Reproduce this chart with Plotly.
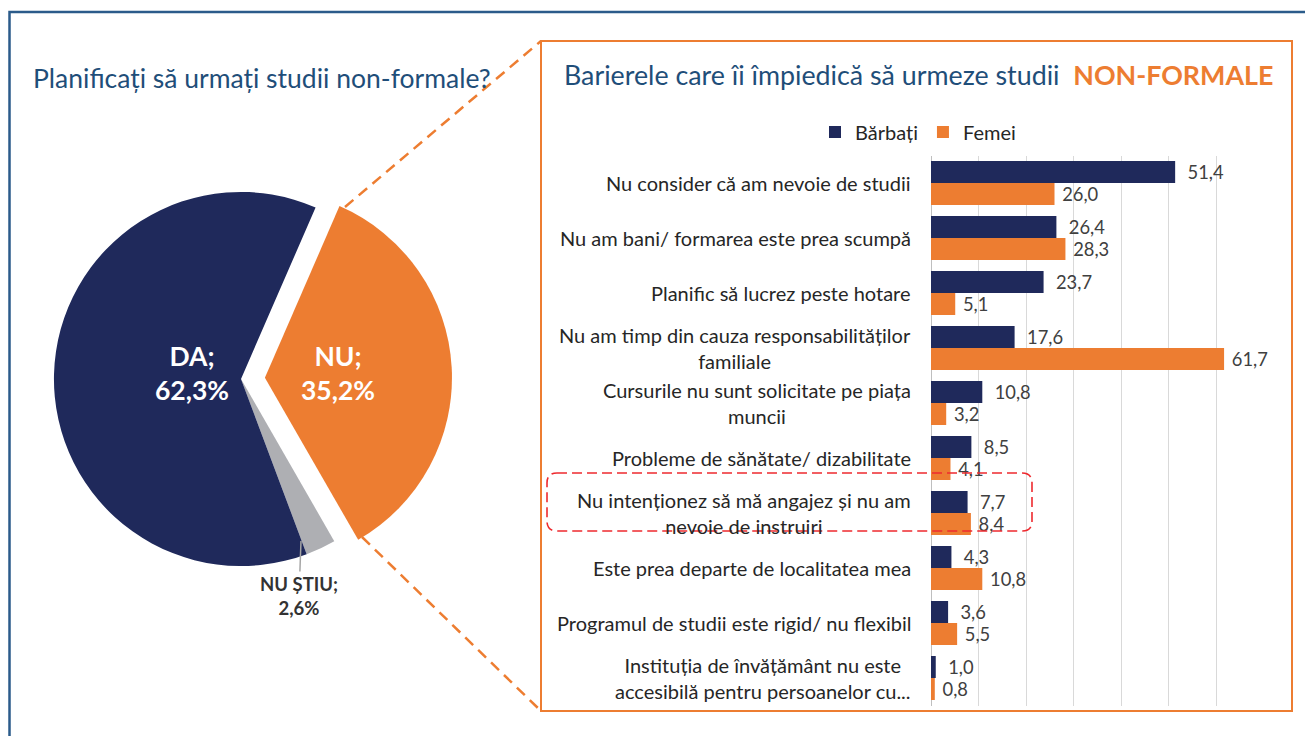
import plotly.graph_objects as go

# the page adds an 8px body margin, so the figure is 8px smaller than the window
OFF = 8
W, H = 1313 - OFF, 736 - OFF

# ---------------- data ----------------
pie_labels = ["NU", "NU ȘTIU", "DA"]
pie_values = [35.2, 2.6, 62.3]

categories = [
    "Nu consider că am nevoie de studii",
    "Nu am bani/ formarea este prea scumpă",
    "Planific să lucrez peste hotare",
    "Nu am timp din cauza responsabilităților<br>familiale",
    "Cursurile nu sunt solicitate pe piața<br>muncii",
    "Probleme de sănătate/ dizabilitate",
    "Nu intenționez să mă angajez și nu am<br>nevoie de instruiri",
    "Este prea departe de localitatea mea",
    "Programul de studii este rigid/ nu flexibil",
    "Instituția de învățământ nu este<br>accesibilă pentru persoanelor cu...",
]
barbati = [51.4, 26.4, 23.7, 17.6, 10.8, 8.5, 7.7, 4.3, 3.6, 1.0]
femei = [26.0, 28.3, 5.1, 61.7, 3.2, 4.1, 8.4, 10.8, 5.5, 0.8]
series_names = ["Bărbați", "Femei"]

NAVY = "#1F295B"
ORANGE = "#ED7D31"
GREY = "#AEAFB3"
BLUE_T = "#1F4E79"
TXT = "#262626"
FONT = "Lato"


def px(x):
    return (x - OFF) / W


def py(y):
    return 1 - (y - OFF) / H


def fmt(v):
    return f"{v:.1f}".replace(".", ",")


fig = go.Figure()

# ---------------- pie ----------------
fig.add_trace(go.Pie(
    labels=pie_labels,
    values=pie_values,
    sort=False,
    direction="clockwise",
    rotation=23.5,
    pull=[0.128, 0, 0],
    marker=dict(colors=[ORANGE, GREY, NAVY], line=dict(width=0)),
    textinfo="none",
    hoverinfo="label+percent",
    showlegend=False,
    domain=dict(x=[px(30), px(452)], y=[py(590), py(168)]),
))

# ---------------- bars ----------------
for name, vals, col, pad in [(series_names[0], barbati, NAVY, "\u00a0\u00a0"),
                             (series_names[1], femei, ORANGE, "\u00a0")]:
    fig.add_trace(go.Bar(
        name=name,
        y=categories,
        x=vals,
        orientation="h",
        marker=dict(color=col, line=dict(width=0)),
        text=[pad + fmt(v) for v in vals],
        textposition="outside",
        textfont=dict(family=FONT, size=20, color="#404040"),
        cliponaxis=False,
        xaxis="x",
        yaxis="y",
    ))

annotations = []
# category labels (centered multi-line, right-anchored like the original)
for c in categories:
    annotations.append(dict(
        xref="paper", yref="y", x=px(913), y=c, text=c,
        xanchor="right", yanchor="middle", align="center", showarrow=False,
        font=dict(family=FONT, size=20, color=TXT),
    ))

# pie labels
lab = {l: v for l, v in zip(pie_labels, pie_values)}
annotations.append(dict(
    xref="paper", yref="paper", x=px(192), y=py(373), xanchor="center", yanchor="middle",
    text=f"<b>DA;<br>{fmt(lab['DA'])}%</b>", showarrow=False,
    font=dict(family=FONT, size=26.5, color="white"), align="center",
))
annotations.append(dict(
    xref="paper", yref="paper", x=px(338), y=py(373), xanchor="center", yanchor="middle",
    text=f"<b>NU;<br>{fmt(lab['NU'])}%</b>", showarrow=False,
    font=dict(family=FONT, size=26.5, color="white"), align="center",
))
annotations.append(dict(
    xref="paper", yref="paper", x=px(301), y=py(541),
    text=f"<b>NU ȘTIU;<br>{fmt(lab['NU ȘTIU'])}%</b>", showarrow=True,
    arrowhead=0, arrowwidth=1.5, arrowcolor="#A6A6A6", ax=-2, ay=55,
    font=dict(family=FONT, size=18.5, color="#333333"), align="center",
))

# titles
annotations.append(dict(
    xref="paper", yref="paper", x=px(31), y=py(78), xanchor="left", yanchor="middle",
    text="Planificați să urmați studii non-formale?", showarrow=False,
    font=dict(family=FONT, size=26.5, color=BLUE_T),
))
annotations.append(dict(
    xref="paper", yref="paper", x=px(562), y=py(75), xanchor="left", yanchor="middle",
    text=f"Barierele care îi împiedică să urmeze studii \u00a0<b><span style='color:{ORANGE}'>NON-FORMALE</span></b>",
    showarrow=False,
    font=dict(family=FONT, size=26.8, color=BLUE_T),
))


def rounded_rect(x0, y0, x1, y1, r):
    X = lambda v: f"{px(v):.5f}"
    Y = lambda v: f"{py(v):.5f}"
    return (f"M {X(x0 + r)},{Y(y0)} L {X(x1 - r)},{Y(y0)} Q {X(x1)},{Y(y0)} {X(x1)},{Y(y0 + r)} "
            f"L {X(x1)},{Y(y1 - r)} Q {X(x1)},{Y(y1)} {X(x1 - r)},{Y(y1)} "
            f"L {X(x0 + r)},{Y(y1)} Q {X(x0)},{Y(y1)} {X(x0)},{Y(y1 - r)} "
            f"L {X(x0)},{Y(y0 + r)} Q {X(x0)},{Y(y0)} {X(x0 + r)},{Y(y0)} Z")


shapes = [
    # outer frame
    dict(type="path", xref="paper", yref="paper",
         path=f"M {px(9.5)},{py(740)} L {px(9.5)},{py(12)} L {px(1316)},{py(12)}",
         line=dict(color="#2B5B8A", width=2.5)),
    # orange panel frame
    dict(type="rect", xref="paper", yref="paper", x0=px(541), x1=px(1292), y0=py(711), y1=py(41),
         line=dict(color=ORANGE, width=2)),
    # dashed connectors
    dict(type="line", xref="paper", yref="paper", x0=px(345), y0=py(207), x1=px(541), y1=py(41),
         line=dict(color=ORANGE, width=2.5, dash="11px,7px")),
    dict(type="line", xref="paper", yref="paper", x0=px(362), y0=py(537), x1=px(541), y1=py(711),
         line=dict(color=ORANGE, width=2.5, dash="11px,7px")),
    # red highlight
    dict(type="path", xref="paper", yref="paper", path=rounded_rect(547, 473, 1032, 531, 10),
         line=dict(color="#EE2A2F", width=1.6, dash="10px,5px")),
]

fig.update_layout(
    width=W, height=H,
    margin=dict(l=0, r=0, t=0, b=0),
    paper_bgcolor="white", plot_bgcolor="white",
    barmode="group", bargap=0.2, bargroupgap=0,
    font=dict(family=FONT, color=TXT),
    xaxis=dict(domain=[px(931), px(1263.5)], range=[0, 70], dtick=10,
               showgrid=True, gridcolor="#D9D9D9", gridwidth=1,
               zeroline=True, zerolinecolor="#BFBFBF", zerolinewidth=1,
               showticklabels=False, fixedrange=True),
    yaxis=dict(domain=[py(705.5), py(155.5)], autorange="reversed",
               showticklabels=False, showgrid=False, zeroline=False, fixedrange=True),
    legend=dict(orientation="h", x=px(918), xanchor="center", y=py(132), yanchor="middle",
                font=dict(family=FONT, size=20, color=TXT), traceorder="normal",
                bgcolor="rgba(0,0,0,0)"),
    annotations=annotations,
    shapes=shapes,
)

fig.write_html("out.html")
